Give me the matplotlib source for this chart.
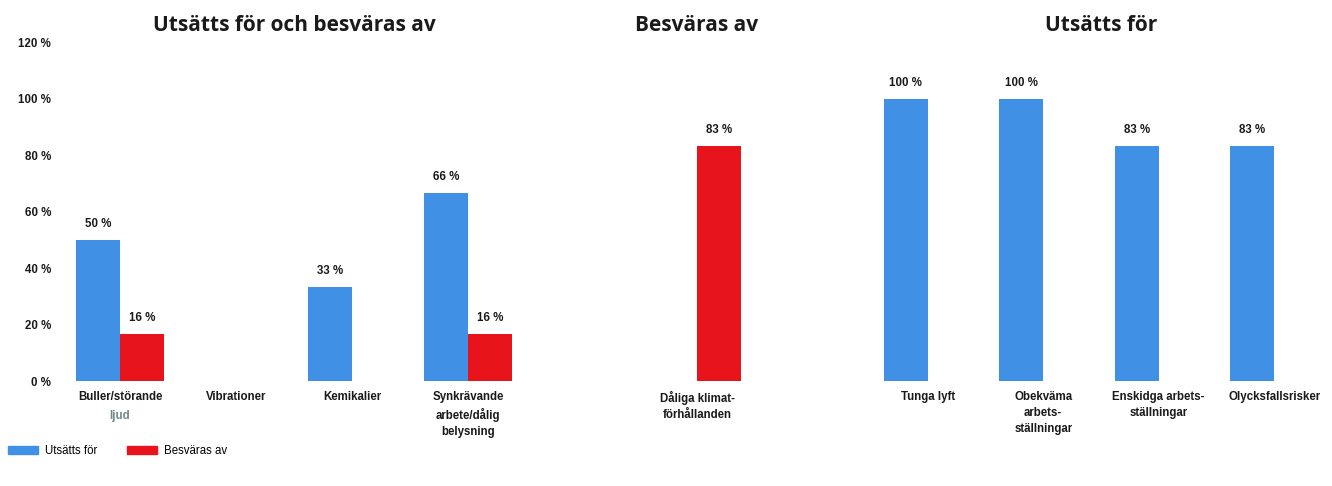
import matplotlib
matplotlib.use("Agg")
import matplotlib.pyplot as plt
from matplotlib.patches import Patch

# data
cats1 = ["Buller/störande\nljud", "Vibrationer", "Kemikalier", "Synkrävande\narbete/dålig\nbelysning"]
utsatts1 = [50, 0, 33.3, 66.7]
besvaras1 = [16.7, 0, 0, 16.7]

cats2 = ["Dåliga klimat-\nförhållanden"]
utsatts2 = [0]
besvaras2 = [83.3]

cats3 = ["Tunga lyft", "Obekväma\narbets-\nställningar", "Enskidga arbets-\nställningar", "Olycksfallsrisker"]
utsatts3 = [100, 100, 83.3, 83.3]
besvaras3 = [0, 0, 0, 0]

titles = ["Utsätts för och besväras av", "Besväras av", "Utsätts för"]
series = ["Utsätts för", "Besväras av"]
yticks = [0, 20, 40, 60, 80, 100, 120]

BLUE = "#4090E6"
RED = "#E8141C"
DARK = "#1a1a1a"
W, H = 1332, 486
plt.rcParams["font.family"] = ["Liberation Sans", "DejaVu Sans"]

fig = plt.figure(figsize=(W / 100, H / 100), dpi=100)
y0 = (H - 381) / H
yh = (381 - 42) / H
# panel extents in pixels (left, right)
spans = [(62, 526), (639, 755), (870, 1332)]
panels = [(cats1, utsatts1, besvaras1), (cats2, utsatts2, besvaras2), (cats3, utsatts3, besvaras3)]

bw = 0.38
fs = 8.3


def cat_label(ax, x, txt, color, dy=-7):
    ax.annotate(txt, xy=(x, 0), xycoords=("data", "axes fraction"), xytext=(0, dy),
                textcoords="offset points", ha="center", va="top", fontsize=fs,
                fontweight="bold", color=color, linespacing=1.45)


for i, ((l, r), (cats, u, b), title) in enumerate(zip(spans, panels, titles)):
    ax = fig.add_axes([l / W, y0, (r - l) / W, yh])
    n = len(cats)
    xs = list(range(n))
    ax.bar([x - bw / 2 for x in xs], u, bw, color=BLUE)
    ax.bar([x + bw / 2 for x in xs], b, bw, color=RED)
    for x, v in zip(xs, u):
        if v > 0:
            ax.text(x - bw / 2, v + 3.5, f"{int(v)} %", ha="center", va="bottom", fontsize=fs,
                    fontweight="bold", color=DARK)
    for x, v in zip(xs, b):
        if v > 0:
            ax.text(x + bw / 2, v + 3.5, f"{int(v)} %", ha="center", va="bottom", fontsize=fs,
                    fontweight="bold", color=DARK)
    ax.set_xlim(-0.5, n - 0.5)
    ax.set_ylim(0, 120)
    ax.set_xticks([])
    for x, c in zip(xs, cats):
        if c.endswith("\nljud"):
            # "ljud" is grey in the original
            first, second = c.split("\n")
            cat_label(ax, x, first, DARK)
            cat_label(ax, x, second, "#6f8a8a", dy=-7 - fs * 1.45 * 1.15)
        else:
            cat_label(ax, x, c, DARK)
    if i == 0:
        ax.set_yticks(yticks)
        ax.set_yticklabels([f"{t} %" for t in yticks], fontsize=fs, fontweight="bold", color=DARK)
        ax.tick_params(axis="y", length=0, pad=8)
    else:
        ax.set_yticks([])
    for s in ax.spines.values():
        s.set_visible(False)
    ax.set_title(title, fontsize=15, fontweight="bold", color=DARK, pad=8,
                 family=["Open Sans", "DejaVu Sans"])

handles = [Patch(color=BLUE), Patch(color=RED)]
fig.legend(handles, series, loc="center left", bbox_to_anchor=(0.0, 0.072), ncol=2, frameon=False,
           fontsize=fs, handlelength=2.6, handleheight=0.6, columnspacing=2.6, handletextpad=0.6,
           borderaxespad=0.3)

fig.savefig("out.png", dpi=100)
